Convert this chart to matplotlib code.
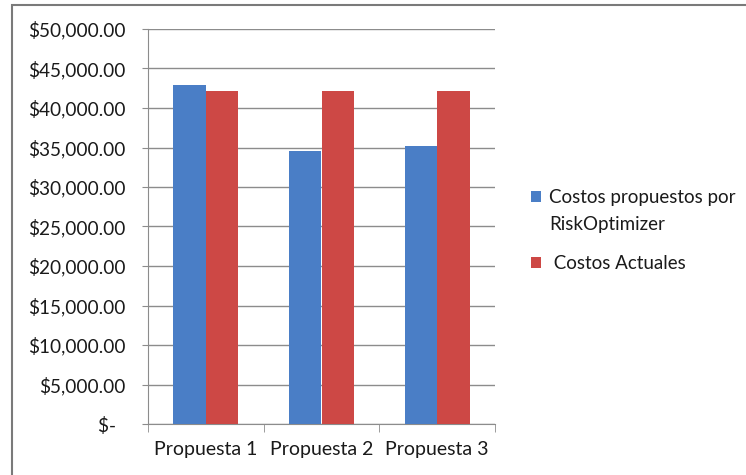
import matplotlib
matplotlib.use("Agg")
import matplotlib.pyplot as plt
import numpy as np
from matplotlib.patches import Rectangle
from matplotlib.legend_handler import HandlerPatch

categories = ["Propuesta 1", "Propuesta 2", "Propuesta 3"]
costos_propuestos = [42900, 34600, 35200]
costos_actuales = [42200, 42200, 42200]
series_labels = ["Costos propuestos por\nRiskOptimizer", " Costos Actuales"]
ytick_values = [0, 5000, 10000, 15000, 20000, 25000, 30000, 35000, 40000, 45000, 50000]
ytick_labels = ["$-  ", "$5,000.00", "$10,000.00", "$15,000.00", "$20,000.00",
                "$25,000.00", "$30,000.00", "$35,000.00", "$40,000.00",
                "$45,000.00", "$50,000.00"]

plt.rcParams['font.family'] = ['Lato', 'DejaVu Sans']

W, H = 746, 475
fig = plt.figure(figsize=(W / 100, H / 100), dpi=100)
fig.patch.set_facecolor("white")

x0, x1 = 148, 495
ytop, ybot = 29, 424
ax = fig.add_axes([x0 / W, 1 - ybot / H, (x1 - x0) / W, (ybot - ytop) / H])

blue = "#4A7EC6"
red = "#CD4845"
x = np.arange(len(categories))
bw = 0.28
b1 = ax.bar(x - bw / 2, costos_propuestos, bw, color=blue, label=series_labels[0], zorder=3)
b2 = ax.bar(x + bw / 2, costos_actuales, bw, color=red, label=series_labels[1], zorder=3)

ax.set_xlim(-0.5, len(categories) - 0.5)
ax.set_ylim(0, 50000)
ax.set_yticks(ytick_values)
ax.set_yticklabels(ytick_labels)
ax.yaxis.grid(True, color="#8c8c8c", linewidth=1.0, zorder=0)
ax.set_axisbelow(True)

ax.set_xticks(x)
ax.set_xticklabels(categories)
ax.set_xticks(np.arange(-0.5, len(categories)), minor=True)
ax.tick_params(axis="x", which="major", length=0, pad=12, labelsize=14, labelcolor="#1a1a1a")
ax.tick_params(axis="x", which="minor", length=6, color="#8c8c8c", direction="out")
ax.tick_params(axis="y", length=4.3, color="#8c8c8c", direction="out", pad=12,
               labelsize=13.7, labelcolor="#1a1a1a")

for s in ["top", "right"]:
    ax.spines[s].set_visible(False)
ax.spines["left"].set_color("#8c8c8c")
ax.spines["bottom"].set_color("#8c8c8c")


def shifted_square(shift):
    def f(legend, orig_handle, xdescent, ydescent, width, height, fontsize):
        return Rectangle((-xdescent, -ydescent + shift), width, height)
    return f


h1 = b1.patches[0]
h2 = b2.patches[0]
fs = 13.5
leg = ax.legend(handles=[h1, h2], labels=series_labels,
                handler_map={h1: HandlerPatch(patch_func=shifted_square(10.5)),
                             h2: HandlerPatch(patch_func=shifted_square(0))},
                loc="upper left", bbox_to_anchor=(523 / W, 1 - 181 / H),
                bbox_transform=fig.transFigure, frameon=False,
                fontsize=fs, handlelength=0.55, handleheight=0.55,
                handletextpad=0.45, labelspacing=1.17, borderaxespad=0)
for t in leg.get_texts():
    t.set_color("#1a1a1a")
    t.set_linespacing(1.75)

fig.patches.append(Rectangle((12 / W, -0.05), 1.2, 1 - 5 / H + 0.05,
                             transform=fig.transFigure, fill=False,
                             edgecolor="#7a7a7a", linewidth=1.5))

fig.savefig("out.png", dpi=100, facecolor="white")
